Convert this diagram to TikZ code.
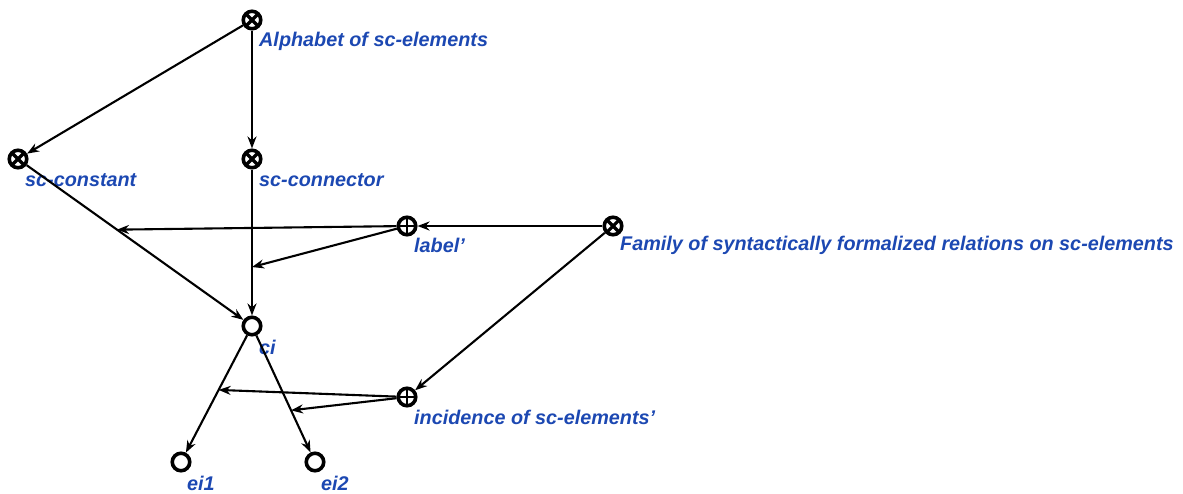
\documentclass[tikz,border=0pt]{standalone}
\usepackage{fontspec}
\setmainfont{Liberation Sans}[Ligatures=ResetAll]
\usetikzlibrary{arrows.meta,calc}
\definecolor{lblue}{RGB}{28,72,178}
\tikzset{
  x=1pt,y=-1pt,
  elem/.style={circle,draw=black,line width=3.6pt,minimum size=17.5pt,inner sep=0pt},
  constel/.style={elem,path picture={
     \draw[line width=3.2pt] (path picture bounding box.south west) -- (path picture bounding box.north east)
       (path picture bounding box.north west) -- (path picture bounding box.south east);}},
  varel/.style={elem,path picture={
     \draw[line width=1.8pt] (path picture bounding box.south) -- (path picture bounding box.north)
       (path picture bounding box.west) -- (path picture bounding box.east);}},
  lbl/.style={text=lblue,font=\bfseries\itshape\fontsize{19.8}{22}\selectfont,anchor=west,inner sep=0pt},
  arc/.style={draw=black,line width=2.1pt,-{Stealth[length=12pt,width=9pt]}},
}
\begin{document}
\begin{tikzpicture}
\useasboundingbox (0,0) rectangle (1183,493);
\node[constel] (alph) at (252,20) {};
\node[constel] (const) at (18,159) {};
\node[constel] (conn) at (252,159) {};
\node[varel] (label) at (407,226) {};
\node[constel] (fam) at (613,226) {};
\node[elem] (ci) at (252,326) {};
\node[varel] (inc) at (407,397) {};
\node[elem] (ei1) at (181,462) {};
\node[elem] (ei2) at (315,462) {};

\node[lbl] (talph) at (259,41) {Alphabet of sc-elements};
\node[lbl] (tconst) at (25,180) {sc-constant};
\node[lbl] (tconn) at (259,180) {sc-connector};
\node[lbl] (tlabel) at (414,245) {label'};
\node[lbl] (tfam) at (620,245) {Family of syntactically formalized relations on sc-elements};
\node[lbl] (tci) at (259,347) {ci};
\node[lbl] (tinc) at (414,417) {incidence of sc-elements'};
\node[lbl] (tei1) at (187,483) {ei1};
\node[lbl] (tei2) at (321,483) {ei2};

\draw[arc] (alph) -- (const);
\draw[arc] (alph) -- (conn);
\draw[arc] (const) -- (ci);
\draw[arc] (conn) -- (ci);
\draw[arc] (ci) -- (ei1);
\draw[arc] (ci) -- (ei2);
\draw[arc] (fam) -- (label);
\draw[arc] (fam) -- (inc);

\coordinate (m1) at ($(const)!0.423!(ci)$);
\coordinate (m2) at ($(conn)!0.647!(ci)$);
\coordinate (m3) at ($(ci)!0.47!(ei1)$);
\coordinate (m4) at ($(ci)!0.62!(ei2)$);
\draw[arc] (label) -- (m1);
\draw[arc] (label) -- (m2);
\draw[arc] (inc) -- (m3);
\draw[arc] (inc) -- (m4);
\end{tikzpicture}
\end{document}
